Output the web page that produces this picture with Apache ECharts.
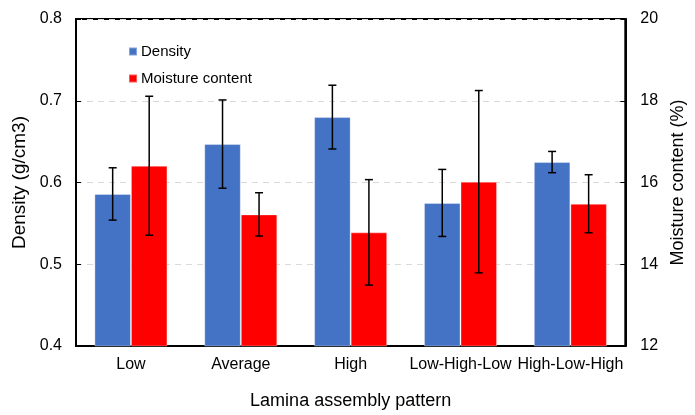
<!DOCTYPE html>
<html>
<head>
<meta charset="utf-8">
<script src="https://cdn.jsdelivr.net/npm/echarts@6/dist/echarts.min.js"></script>
<style>
html,body{margin:0;padding:0;background:#fff;}
#chart{width:695px;height:415px;}
</style>
</head>
<body>
<div id="chart"></div>
<script>
const categories = ['Low', 'Average', 'High', 'Low-High-Low', 'High-Low-High'];
const densityValues = [0.586, 0.647, 0.680, 0.575, 0.625];
const densityErrors = [0.032, 0.054, 0.039, 0.041, 0.013];
const moistureValues = [16.41, 15.22, 14.78, 16.02, 15.48];
const moistureErrors = [1.70, 0.53, 1.29, 2.23, 0.71];
const densityTicks = [0.4, 0.5, 0.6, 0.7, 0.8];
const moistureTicks = [12, 14, 16, 18, 20];

const FONT = 'Liberation Sans';
const CAT_GAP = 0.335;

const chart = echarts.init(document.getElementById('chart'), null, {renderer: 'canvas'});

function errorRenderer(values, errors, side) {
  return function (params, api) {
    const i = api.value(0);
    const v = values[i], e = errors[i];
    const band = api.size([1, 0])[0];
    const barW = band * (1 - CAT_GAP) / 2;
    const c = api.coord([i, v]);
    const x = c[0] + side * barW / 2;
    const yTop = api.coord([i, v + e])[1];
    const yBot = api.coord([i, v - e])[1];
    const cap = 4;
    const style = {stroke: '#000', lineWidth: 1.5};
    return {
      type: 'group',
      children: [
        {type: 'line', shape: {x1: x, y1: yTop, x2: x, y2: yBot}, style: style},
        {type: 'line', shape: {x1: x - cap, y1: yTop, x2: x + cap, y2: yTop}, style: style},
        {type: 'line', shape: {x1: x - cap, y1: yBot, x2: x + cap, y2: yBot}, style: style}
      ]
    };
  };
}

const option = {
  backgroundColor: '#fff',
  animation: false,
  textStyle: {fontFamily: FONT, color: '#000'},
  grid: {left: 76, right: 58, top: 19, bottom: 65, show: true, borderColor: '#000', borderWidth: 2, backgroundColor: 'transparent'},
  legend: {
    orient: 'vertical',
    left: 128,
    top: 44,
    padding: 0,
    itemWidth: 8,
    itemHeight: 8,
    itemGap: 12,
    icon: 'rect',
    textStyle: {fontFamily: FONT, fontSize: 15, color: '#000', padding: [0, 0, 0, -1]},
    data: ['Density', 'Moisture content']
  },
  xAxis: {
    type: 'category',
    data: categories,
    name: 'Lamina assembly pattern',
    nameLocation: 'middle',
    nameGap: 46,
    nameTextStyle: {fontFamily: FONT, fontSize: 18, color: '#000'},
    axisLine: {lineStyle: {color: '#000', width: 2}},
    axisTick: {show: false},
    axisLabel: {fontFamily: FONT, fontSize: 16, color: '#000', margin: 11, interval: 0}
  },
  yAxis: [
    {
      type: 'value',
      min: densityTicks[0],
      max: densityTicks[densityTicks.length - 1],
      interval: 0.1,
      name: 'Density (g/cm3)',
      nameLocation: 'middle',
      nameGap: 44,
      nameTextStyle: {fontFamily: FONT, fontSize: 19, color: '#000'},
      axisLine: {show: true, lineStyle: {color: '#000', width: 2}},
      axisTick: {show: true, inside: true, length: 5, lineStyle: {color: '#000', width: 1}},
      axisLabel: {fontFamily: FONT, fontSize: 16, color: '#000', margin: 14, formatter: v => v.toFixed(1)},
      splitLine: {show: true, lineStyle: {color: '#d9d9d9', type: [6, 5], width: 1}}
    },
    {
      type: 'value',
      min: moistureTicks[0],
      max: moistureTicks[moistureTicks.length - 1],
      interval: 2,
      position: 'right',
      name: 'Moisture content (%)',
      nameLocation: 'middle',
      nameGap: 42,
      nameRotate: 90,
      nameTextStyle: {fontFamily: FONT, fontSize: 18, color: '#000'},
      axisLine: {show: true, lineStyle: {color: '#000', width: 2}},
      axisTick: {show: true, inside: true, length: 5, lineStyle: {color: '#000', width: 1}},
      axisLabel: {fontFamily: FONT, fontSize: 16, color: '#000', margin: 15},
      splitLine: {show: false}
    }
  ],
  series: [
    {
      name: 'Density',
      type: 'bar',
      yAxisIndex: 0,
      data: densityValues,
      barGap: '0%',
      barCategoryGap: (CAT_GAP * 100) + '%',
      itemStyle: {color: '#4472C4', borderColor: 'rgba(255,255,255,0.35)', borderWidth: 1}
    },
    {
      name: 'Moisture content',
      type: 'bar',
      yAxisIndex: 1,
      data: moistureValues,
      barGap: '0%',
      barCategoryGap: (CAT_GAP * 100) + '%',
      itemStyle: {color: '#FF0000', borderColor: 'rgba(255,255,255,0.35)', borderWidth: 1}
    },
    {
      type: 'custom',
      yAxisIndex: 0,
      data: categories.map((c, i) => [i]),
      renderItem: errorRenderer(densityValues, densityErrors, -1),
      z: 10,
      silent: true
    },
    {
      type: 'custom',
      yAxisIndex: 1,
      data: categories.map((c, i) => [i]),
      renderItem: errorRenderer(moistureValues, moistureErrors, 1),
      z: 10,
      silent: true
    }
  ]
};
chart.setOption(option);
</script>
</body>
</html>
